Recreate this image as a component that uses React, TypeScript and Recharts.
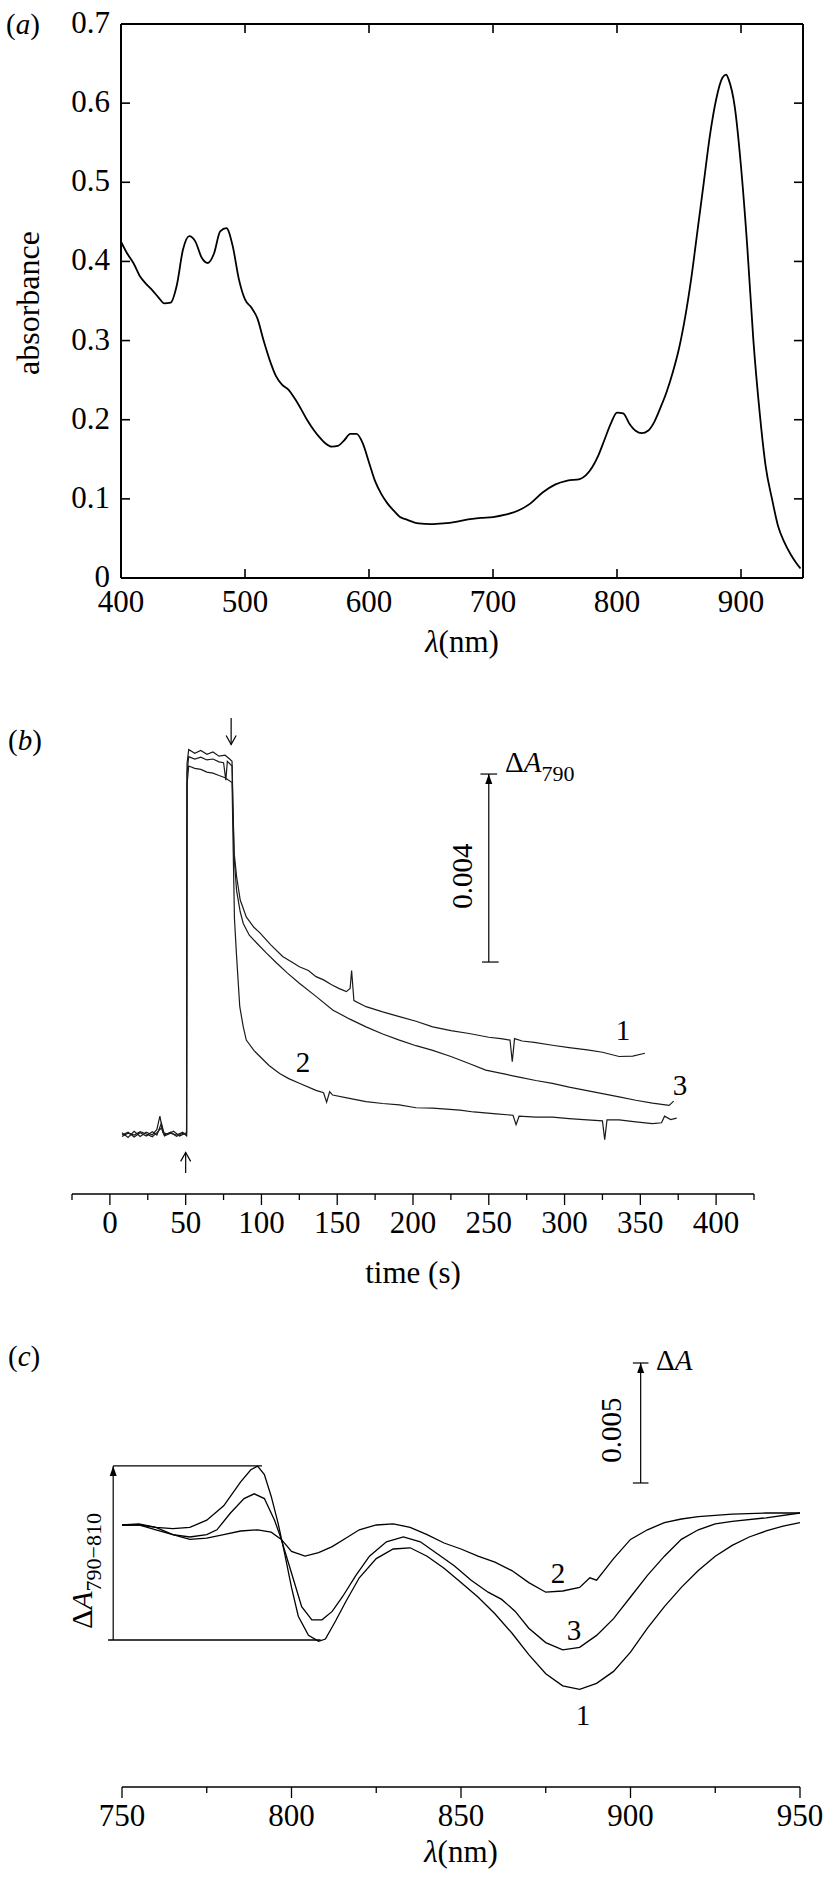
import React from "react";
import { LineChart, Line, XAxis, YAxis, ReferenceLine, ReferenceDot } from "recharts";

const FONT = "'Liberation Serif', 'Times New Roman', Times, serif";
const INK = "#000";

// (a) absorption spectrum: [wavelength nm, absorbance]
const absorbanceSpectrum: [number, number][] = [
  [400, 0.425], [405, 0.41], [410, 0.398], [415, 0.382], [420, 0.372], [425, 0.364],
  [430, 0.355], [435, 0.347], [440, 0.348], [445, 0.37], [450, 0.415], [455, 0.432],
  [460, 0.425], [465, 0.405], [470, 0.398], [475, 0.41], [480, 0.438], [485, 0.442],
  [490, 0.42], [495, 0.378], [500, 0.352], [505, 0.342], [510, 0.328], [515, 0.3],
  [520, 0.275], [525, 0.255], [530, 0.244], [535, 0.238], [540, 0.227], [545, 0.214],
  [550, 0.2], [555, 0.188], [560, 0.178], [565, 0.17], [570, 0.166], [575, 0.167],
  [580, 0.174], [585, 0.182], [590, 0.182], [595, 0.17], [600, 0.146], [605, 0.122],
  [610, 0.106], [615, 0.094], [620, 0.085], [625, 0.077], [630, 0.074], [640, 0.069],
  [650, 0.068], [660, 0.069], [670, 0.071], [680, 0.074], [690, 0.076], [700, 0.077],
  [710, 0.08], [720, 0.085], [730, 0.094], [740, 0.108], [750, 0.118], [760, 0.123],
  [770, 0.125], [775, 0.13], [780, 0.14], [785, 0.155], [790, 0.175], [795, 0.195],
  [800, 0.209], [805, 0.208], [810, 0.195], [815, 0.186], [820, 0.183], [825, 0.186],
  [830, 0.197], [835, 0.215], [840, 0.235], [845, 0.26], [850, 0.29], [855, 0.33],
  [860, 0.38], [865, 0.44], [870, 0.5], [875, 0.56], [880, 0.605], [885, 0.632],
  [888, 0.636], [890, 0.63], [895, 0.595], [900, 0.52], [905, 0.42], [910, 0.3],
  [915, 0.21], [920, 0.14], [925, 0.1], [930, 0.065], [935, 0.045], [940, 0.03],
  [945, 0.018], [948, 0.012],
];
const absTicksX = [400, 500, 600, 700, 800, 900];
const absTicksTop = [500, 600, 700, 800, 900];
const absTicksY = [0, 0.1, 0.2, 0.3, 0.4, 0.5, 0.6, 0.7];
const absTicksRight = [0.1, 0.2, 0.3, 0.4, 0.5, 0.6];

// (b) ΔA790 kinetics, in units of 0.001: [time s, value]
const trace1: [number, number][] = [
  [8, 0.05], [12, -0.05], [16, 0.08], [20, -0.03], [24, 0.06], [28, 0.0], [31, 0.12],
  [33, 0.4], [35, 0.05], [38, 0.02], [42, 0.08], [46, -0.02], [50.6, 0.05],
  [50.9, 7.9], [52, 8.2], [56, 8.12], [60, 8.18], [64, 8.1], [68, 8.15], [72, 8.06],
  [76, 8.08], [79, 8.0], [80.6, 7.95], [81.2, 7.0], [82, 6.0], [83.6, 5.5], [86, 5.0],
  [90, 4.64], [95, 4.42], [99, 4.3], [106, 4.05], [114, 3.8], [120, 3.68], [125, 3.58],
  [131, 3.5], [136, 3.37], [141, 3.3], [146, 3.2], [151, 3.12], [156, 3.05],
  [158.5, 3.12], [159.5, 3.5], [161, 2.86], [169, 2.73], [180, 2.62], [191, 2.52],
  [202, 2.42], [213, 2.3], [225, 2.22], [237, 2.16], [250, 2.08], [258, 2.05],
  [264, 2.02], [265.5, 1.56], [267, 2.05], [272, 2.0], [280, 1.97], [292, 1.91],
  [303, 1.86], [315, 1.81], [325, 1.76], [336, 1.67], [345, 1.68], [353, 1.74],
];
const trace2: [number, number][] = [
  [8, -0.03], [12, 0.04], [16, 0.0], [20, 0.07], [24, 0.02], [28, -0.04], [31, 0.05],
  [34, 0.15], [36, -0.02], [40, 0.04], [44, 0.0], [48, 0.06], [50.6, -0.02],
  [50.9, 7.45], [52, 7.85], [56, 7.8], [60, 7.78], [64, 7.72], [68, 7.7], [72, 7.65],
  [76, 7.6], [80.6, 7.5], [81.4, 6.0], [82.2, 4.6], [83.6, 3.8], [85.7, 2.73],
  [88, 2.3], [90, 2.02], [95, 1.8], [99, 1.67], [105, 1.48], [112, 1.31], [118, 1.2],
  [125, 1.1], [136, 0.95], [141, 0.9], [143, 0.7], [145, 0.92], [147, 0.85],
  [158, 0.78], [169, 0.71], [180, 0.67], [191, 0.64], [202, 0.58], [213, 0.57],
  [231, 0.53], [240, 0.49], [255, 0.45], [266, 0.42], [268, 0.22], [270, 0.4],
  [281, 0.38], [292, 0.38], [303, 0.35], [315, 0.32], [325, 0.3], [326.5, -0.1],
  [328, 0.32], [336, 0.32], [347, 0.28], [358, 0.24], [364, 0.26], [366, 0.4],
  [370, 0.33], [374, 0.36],
];
const trace3: [number, number][] = [
  [8, 0.0], [12, 0.06], [16, -0.04], [20, 0.05], [24, -0.02], [28, 0.07], [31, 0.0],
  [34, 0.25], [36, 0.0], [40, 0.06], [44, -0.03], [48, 0.04], [50.6, 0.0],
  [50.9, 7.7], [52, 8.05], [56, 8.0], [60, 8.04], [64, 7.98], [68, 8.0], [72, 7.94],
  [75, 7.92], [76.5, 7.55], [77.5, 7.95], [80.6, 7.85], [81.2, 6.9], [82, 5.9],
  [83.6, 5.2], [86, 4.75], [88, 4.5], [92, 4.25], [97, 4.08], [103, 3.88], [110, 3.66],
  [117, 3.45], [125, 3.23], [136, 2.95], [147, 2.66], [158, 2.47], [169, 2.3],
  [180, 2.15], [191, 2.02], [202, 1.9], [213, 1.8], [225, 1.67], [237, 1.52],
  [248, 1.38], [260, 1.3], [270, 1.23], [281, 1.16], [292, 1.1], [303, 1.02],
  [314, 0.95], [325, 0.88], [336, 0.81], [347, 0.74], [358, 0.68], [369, 0.63],
  [372, 0.72],
];
const timeTicks = [-25, 0, 25, 50, 75, 100, 125, 150, 175, 200, 225, 250, 275, 300, 325, 350, 375, 400, 425];

// (c) light-minus-dark spectra, units of 0.001: [wavelength nm, ΔA]
const diff1: [number, number][] = [
  [750, 0], [755, 0.05], [760, -0.1], [765, -0.15], [770, -0.1], [775, 0.2], [780, 0.8],
  [785, 1.8], [788, 2.3], [790, 2.45], [792, 2.1], [794, 1.2], [796, 0.1], [798, -1.2],
  [800, -2.6], [802, -3.8], [805, -4.6], [808, -4.85], [810, -4.75], [813, -4.0],
  [816, -3.2], [820, -2.2], [825, -1.4], [830, -1.0], [835, -0.95], [840, -1.3],
  [845, -1.8], [850, -2.4], [855, -3.0], [860, -3.7], [865, -4.5], [870, -5.4],
  [875, -6.2], [880, -6.7], [885, -6.85], [890, -6.6], [895, -6.1], [900, -5.3],
  [905, -4.3], [910, -3.4], [915, -2.6], [920, -1.9], [925, -1.3], [930, -0.85],
  [935, -0.5], [940, -0.25], [945, -0.05], [950, 0.1],
];
const diff2: [number, number][] = [
  [750, 0], [755, 0], [760, -0.2], [765, -0.4], [770, -0.6], [775, -0.55], [780, -0.4],
  [785, -0.25], [790, -0.2], [794, -0.3], [797, -0.6], [800, -1.1], [804, -1.3],
  [808, -1.15], [812, -0.9], [816, -0.55], [820, -0.2], [825, 0], [830, 0.05],
  [835, -0.1], [840, -0.4], [845, -0.75], [850, -1.0], [855, -1.3], [860, -1.55],
  [865, -1.9], [870, -2.4], [875, -2.8], [880, -2.75], [885, -2.6], [888, -2.2],
  [890, -2.3], [895, -1.4], [900, -0.6], [905, -0.2], [910, 0.1], [915, 0.25],
  [920, 0.35], [930, 0.45], [940, 0.5], [950, 0.5],
];
const diff3: [number, number][] = [
  [750, 0], [755, 0], [760, -0.1], [765, -0.4], [770, -0.5], [775, -0.4], [778, -0.2],
  [782, 0.5], [786, 1.1], [789, 1.3], [792, 1.1], [795, 0.2], [797, -0.6], [800, -2.0],
  [803, -3.4], [806, -3.95], [809, -3.95], [812, -3.6], [815, -3.0], [819, -2.1],
  [823, -1.3], [828, -0.7], [833, -0.5], [838, -0.7], [843, -1.2], [848, -1.7],
  [853, -2.3], [858, -2.8], [862, -3.1], [866, -3.6], [870, -4.3], [875, -4.9],
  [880, -5.2], [885, -5.1], [890, -4.6], [895, -3.9], [900, -3.0], [905, -2.1],
  [910, -1.3], [915, -0.6], [920, -0.2], [925, 0.05], [930, 0.15], [940, 0.3],
  [950, 0.5],
];
const nmTicks = [750, 775, 800, 825, 850, 875, 900, 925, 950];

const toXY = (pairs: [number, number][]) => pairs.map(([x, y]) => ({ x, y }));

// ticks pointing into the box (panel a)
function tickBottomIn(props: any) {
  const { x, y, payload } = props;
  return (
    <g>
      <line x1={x} y1={y} x2={x} y2={y - 9} stroke={INK} strokeWidth={1.6} />
      <text x={x} y={y + 34} textAnchor="middle" fontFamily={FONT} fontSize={31} fill={INK}>
        {payload.value}
      </text>
    </g>
  );
}
function tickTopIn(props: any) {
  const { x, y } = props;
  return <line x1={x} y1={y} x2={x} y2={y + 9} stroke={INK} strokeWidth={1.6} />;
}
function tickLeftIn(props: any) {
  const { x, y, payload } = props;
  return (
    <g>
      <line x1={x} y1={y} x2={x + 9} y2={y} stroke={INK} strokeWidth={1.6} />
      <text x={x - 11} y={y + 9} textAnchor="end" fontFamily={FONT} fontSize={31} fill={INK}>
        {payload.value}
      </text>
    </g>
  );
}
function tickRightIn(props: any) {
  const { x, y } = props;
  return <line x1={x} y1={y} x2={x - 9} y2={y} stroke={INK} strokeWidth={1.6} />;
}
// ticks hanging under the axis (panels b, c)
function tickOut(props: any) {
  const { x, y, payload } = props;
  const major = payload.value % 50 === 0;
  return (
    <g>
      <line x1={x} y1={y} x2={x} y2={y + (major ? 11 : 6)} stroke={INK} strokeWidth={1.3} />
      {major && (
        <text x={x} y={y + 39} textAnchor="middle" fontFamily={FONT} fontSize={31} fill={INK}>
          {payload.value}
        </text>
      )}
    </g>
  );
}

const upHead = (p: any) => <path d={`M${p.cx - 3.5},${p.cy + 10} L${p.cx},${p.cy} L${p.cx + 3.5},${p.cy + 10} Z`} fill={INK} />;
const openUp = (p: any) => <path d={`M${p.cx - 5},${p.cy + 9} L${p.cx},${p.cy} L${p.cx + 5},${p.cy + 9}`} fill="none" stroke={INK} strokeWidth={1.2} />;
const openDown = (p: any) => <path d={`M${p.cx - 5},${p.cy - 9} L${p.cx},${p.cy} L${p.cx + 5},${p.cy - 9}`} fill="none" stroke={INK} strokeWidth={1.2} />;

function PanelA() {
  const data = absorbanceSpectrum.map(([nm, a]) => ({ nm, a }));
  const axisLine = { stroke: INK, strokeWidth: 2 };
  return (
    <LineChart width={825} height={660} data={data} margin={{ top: 20, right: 12, bottom: 0, left: 0 }}>
      <XAxis xAxisId="b" dataKey="nm" type="number" domain={[400, 950]} allowDataOverflow ticks={absTicksX}
        interval={0} height={82} tickSize={0} tickMargin={0} tickLine={false} axisLine={axisLine} tick={tickBottomIn} />
      <XAxis xAxisId="t" orientation="top" dataKey="nm" type="number" domain={[400, 950]} allowDataOverflow
        ticks={absTicksTop} interval={0} height={4} tickSize={0} tickMargin={0} tickLine={false} axisLine={axisLine} tick={tickTopIn} />
      <YAxis yAxisId="l" type="number" domain={[0, 0.7]} allowDataOverflow ticks={absTicksY} interval={0}
        width={121} tickSize={0} tickMargin={0} tickLine={false} axisLine={axisLine} tick={tickLeftIn} />
      <YAxis yAxisId="r" orientation="right" type="number" domain={[0, 0.7]} allowDataOverflow ticks={absTicksRight}
        interval={0} width={10} tickSize={0} tickMargin={0} tickLine={false} axisLine={axisLine} tick={tickRightIn} />
      <Line xAxisId="b" yAxisId="l" dataKey="a" type="monotone" stroke={INK} strokeWidth={1.8} dot={false} isAnimationActive={false} />
    </LineChart>
  );
}

function PanelB() {
  const bar = { stroke: INK, strokeWidth: 1.2, ifOverflow: "visible" as const };
  return (
    <LineChart width={825} height={600} margin={{ top: 20, right: 71, bottom: 0, left: 72 }}>
      <XAxis dataKey="x" type="number" domain={[-25, 425]} allowDataOverflow ticks={timeTicks} interval={0}
        height={86} tickSize={0} tickMargin={0} tickLine={false} axisLine={{ stroke: INK, strokeWidth: 1.3 }} tick={tickOut} />
      <YAxis hide type="number" domain={[-1.2553, 9.2553]} allowDataOverflow />
      <Line data={toXY(trace1)} dataKey="y" type="linear" stroke="#1a1a1a" strokeWidth={1.2} dot={false} isAnimationActive={false} />
      <Line data={toXY(trace3)} dataKey="y" type="linear" stroke="#1a1a1a" strokeWidth={1.2} dot={false} isAnimationActive={false} />
      <Line data={toXY(trace2)} dataKey="y" type="linear" stroke="#1a1a1a" strokeWidth={1.2} dot={false} isAnimationActive={false} />
      <ReferenceLine segment={[{ x: 250, y: 3.68 }, { x: 250, y: 7.68 }]} {...bar} />
      <ReferenceLine segment={[{ x: 244.5, y: 7.68 }, { x: 255.5, y: 7.68 }]} {...bar} />
      <ReferenceLine segment={[{ x: 245.5, y: 3.68 }, { x: 256.5, y: 3.68 }]} {...bar} />
      <ReferenceDot x={250} y={7.68} r={3} ifOverflow="visible" shape={upHead} />
      <ReferenceLine segment={[{ x: 50, y: -0.81 }, { x: 50, y: -0.37 }]} {...bar} />
      <ReferenceDot x={50} y={-0.37} r={3} ifOverflow="visible" shape={openUp} />
      <ReferenceLine segment={[{ x: 80, y: 8.87 }, { x: 80, y: 8.31 }]} {...bar} />
      <ReferenceDot x={80} y={8.31} r={3} ifOverflow="visible" shape={openDown} />
    </LineChart>
  );
}

function PanelC() {
  const thin = { stroke: INK, strokeWidth: 1.2, ifOverflow: "visible" as const };
  return (
    <LineChart width={825} height={560} margin={{ top: 20, right: 25, bottom: 0, left: 122 }}>
      <XAxis dataKey="x" type="number" domain={[750, 950]} allowDataOverflow ticks={nmTicks} interval={0}
        height={93} tickSize={0} tickMargin={0} tickLine={false} axisLine={{ stroke: INK, strokeWidth: 1.3 }} tick={tickOut} />
      <YAxis hide type="number" domain={[-10.917, 7.708]} allowDataOverflow />
      <Line data={toXY(diff1)} dataKey="y" type="linear" stroke={INK} strokeWidth={1.3} dot={false} isAnimationActive={false} />
      <Line data={toXY(diff3)} dataKey="y" type="linear" stroke={INK} strokeWidth={1.3} dot={false} isAnimationActive={false} />
      <Line data={toXY(diff2)} dataKey="y" type="linear" stroke={INK} strokeWidth={1.3} dot={false} isAnimationActive={false} />
      <ReferenceLine segment={[{ x: 747.4, y: -4.79 }, { x: 747.4, y: 2.46 }]} {...thin} />
      <ReferenceLine segment={[{ x: 747.4, y: 2.46 }, { x: 791.3, y: 2.46 }]} {...thin} />
      <ReferenceLine segment={[{ x: 745.9, y: -4.79 }, { x: 808.6, y: -4.79 }]} {...thin} strokeWidth={1.5} />
      <ReferenceDot x={747.4} y={2.46} r={3} ifOverflow="visible" shape={upHead} />
      <ReferenceLine segment={[{ x: 903, y: 1.75 }, { x: 903, y: 6.75 }]} {...thin} />
      <ReferenceLine segment={[{ x: 900.7, y: 6.75 }, { x: 905.3, y: 6.75 }]} {...thin} />
      <ReferenceLine segment={[{ x: 900.7, y: 1.75 }, { x: 905.3, y: 1.75 }]} {...thin} />
      <ReferenceDot x={903} y={6.75} r={3} ifOverflow="visible" shape={upHead} />
    </LineChart>
  );
}

export default function App() {
  return (
    <div style={{ position: "absolute", left: 0, top: 0, width: 825, height: 1890, background: "#fff", fontFamily: FONT }}>
      <div style={{ position: "absolute", left: 0, top: 0 }}>
        <PanelA />
      </div>
      <div style={{ position: "absolute", left: 0, top: 680 }}>
        <PanelB />
      </div>
      <div style={{ position: "absolute", left: 0, top: 1320 }}>
        <PanelC />
      </div>
      <svg width={825} height={1890} style={{ position: "absolute", left: 0, top: 0, pointerEvents: "none" }}>
        <g fontFamily={FONT} fill={INK}>
          <text x={6} y={34} fontSize={29}>(<tspan fontStyle="italic">a</tspan>)</text>
          <text transform="translate(39 303) rotate(-90)" textAnchor="middle" fontSize={32}>absorbance</text>
          <text x={462} y={652} textAnchor="middle" fontSize={31}>
            <tspan fontStyle="italic">λ</tspan>(nm)
          </text>

          <text x={8} y={750} fontSize={29}>(<tspan fontStyle="italic">b</tspan>)</text>
          <text x={505} y={772} fontSize={29}>
            Δ<tspan fontStyle="italic">A</tspan>
            <tspan fontSize={22} dy={9}>790</tspan>
          </text>
          <text transform="translate(472 876) rotate(-90)" textAnchor="middle" fontSize={29}>0.004</text>
          <text x={623} y={1040} textAnchor="middle" fontSize={29}>1</text>
          <text x={680} y={1095} textAnchor="middle" fontSize={29}>3</text>
          <text x={303} y={1072} textAnchor="middle" fontSize={29}>2</text>
          <text x={413} y={1283} textAnchor="middle" fontSize={31}>time (s)</text>

          <text x={8} y={1366} fontSize={29}>(<tspan fontStyle="italic">c</tspan>)</text>
          <text x={656} y={1370} fontSize={29}>
            Δ<tspan fontStyle="italic">A</tspan>
          </text>
          <text transform="translate(621 1430) rotate(-90)" textAnchor="middle" fontSize={29}>0.005</text>
          <text transform="translate(92 1629) rotate(-90)" fontSize={30}>
            Δ<tspan fontStyle="italic">A</tspan>
            <tspan fontSize={22} dy={9}>790−810</tspan>
          </text>
          <text x={558} y={1583} textAnchor="middle" fontSize={29}>2</text>
          <text x={574} y={1640} textAnchor="middle" fontSize={29}>3</text>
          <text x={583} y={1725} textAnchor="middle" fontSize={29}>1</text>
          <text x={461} y={1862} textAnchor="middle" fontSize={31}>
            <tspan fontStyle="italic">λ</tspan>(nm)
          </text>
        </g>
      </svg>
    </div>
  );
}
